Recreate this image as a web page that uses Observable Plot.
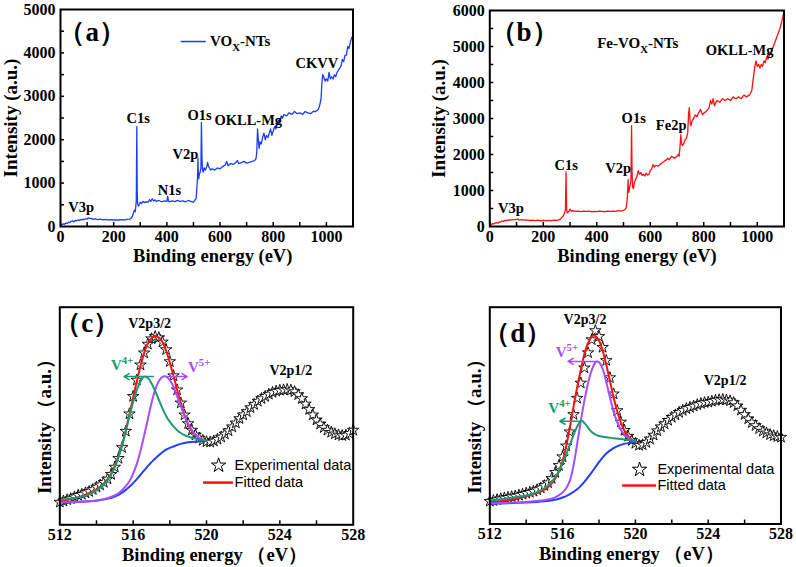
<!DOCTYPE html>
<html><head><meta charset="utf-8">
<script src="https://cdn.jsdelivr.net/npm/d3@7"></script>
<script src="https://cdn.jsdelivr.net/npm/@observablehq/plot@0.6"></script>
<style>
body{margin:0;background:#fff;}
#wrap{position:relative;width:796px;height:567px;overflow:hidden;background:#fff;}
#wrap svg{position:absolute;}
</style></head><body><div id="wrap"></div>
<script>
// ---------- Panel (a): VOx-NTs survey ----------
const aEnergy = [0,5,10,15,20,25,30,35,40,45,50,55,60,65,70,75,80,85,90,95,100,105,110,115,120,130,140,150,160,170,180,190,200,210,220,230,240,250,260,265,270,275,278,281,283,285,287,288.5,290,293,296,300,305,310,315,320,330,335,340,345,350,355,360,370,380,390,400,403,406,410,420,430,440,450,460,470,480,490,500,505,510,513,515,517,518.5,520,522,525,528,530,532,534,537,540,545,550,553,556,560,565,570,580,590,600,610,620,625,630,640,650,660,665,670,680,690,700,710,720,730,735,738,741,744,747,750,755,760,765,770,775,780,785,790,795,800,805,810,815,820,825,830,835,840,850,860,870,880,890,900,910,920,930,940,950,960,970,975,980,983,986,990,995,1000,1005,1010,1015,1020,1025,1030,1035,1040,1045,1050,1055,1060,1065,1070,1075,1080,1085,1090,1095,1100];
const aIntensity = [20,40,60,50,80,70,100,90,120,130,110,140,130,150,140,160,150,170,160,180,170,200,180,190,170,175,160,170,155,165,150,160,150,155,150,160,150,165,170,190,230,320,380,340,450,600,2300,800,520,470,500,560,530,580,550,570,560,620,580,640,590,610,580,600,570,590,580,700,590,570,590,575,600,580,590,570,600,580,560,600,650,900,1100,1580,1150,1100,1200,1250,1350,2400,1600,1300,1250,1350,1300,1380,1480,1400,1350,1300,1330,1300,1350,1330,1380,1420,1500,1400,1450,1430,1480,1520,1450,1470,1500,1460,1480,1500,1520,1560,1700,2250,2000,1800,1950,1900,2050,2150,2000,2100,2050,2150,2250,2100,2200,2300,2250,2350,2450,2400,2550,2500,2580,2550,2620,2580,2650,2600,2620,2580,2650,2620,2600,2650,2650,2700,2800,2950,3300,3500,3450,3350,3400,3350,3550,3400,3450,3400,3500,3450,3550,3600,3650,3700,3850,3800,3950,3950,4150,4100,4250,4350,4400];

// ---------- Panel (b): Fe-VOx-NTs survey ----------
const bEnergy = [0,5,10,15,20,25,30,35,40,45,50,55,60,65,70,75,80,90,100,105,110,120,130,140,150,160,170,180,190,200,210,220,230,240,250,260,265,270,275,280,283,285,287,289,292,296,300,303,306,310,320,330,340,350,360,370,380,390,400,410,420,430,440,450,460,470,480,490,500,505,510,513,515,517,518,520,523,526,528,530,532,534,537,540,545,550,555,560,565,570,575,580,585,590,595,600,605,610,615,620,630,640,650,660,665,670,680,690,700,705,708,711,714,717,720,725,730,735,740,743,746,749,752,757,762,768,775,780,788,795,800,810,820,825,830,835,840,845,850,860,870,880,890,900,910,920,930,940,950,960,970,975,980,985,990,995,1000,1005,1010,1015,1020,1025,1030,1035,1040,1045,1050,1055,1060,1065,1070,1075,1080,1085,1090,1095,1100];
const bIntensity = [20,50,80,70,100,110,90,130,120,150,140,170,160,180,170,190,175,190,200,210,180,190,175,180,170,180,165,175,160,170,160,170,165,175,170,190,210,260,300,380,500,1520,500,380,400,420,480,450,420,440,420,430,410,430,420,430,410,420,415,430,420,410,430,420,430,420,440,430,450,470,520,700,900,1300,1000,950,1100,1200,1300,2800,1500,1100,1050,1200,1300,1400,1550,1450,1500,1420,1450,1400,1480,1430,1450,1550,1600,1720,1650,1700,1680,1750,1800,1850,1900,1850,1950,1900,1950,2000,1950,2200,2550,2300,2250,2300,2400,2450,2600,3100,3300,2900,2800,2950,3000,3100,3050,3150,3250,3100,3150,3200,3300,3500,3400,3550,3350,3450,3500,3450,3550,3500,3550,3500,3600,3550,3600,3550,3650,3600,3650,3700,3800,4100,4400,4600,4450,4500,4400,4500,4450,4600,4550,4700,4650,4750,4800,4900,5000,5100,5200,5300,5400,5500,5650,5800,5980];

// ---------- Panel (c): V2p of VOx-NTs (arbitrary units) ----------
const cExpEnergy = [512.0,512.2,512.4,512.6,512.8,513.0,513.2,513.4,513.6,513.8,514.0,514.2,514.4,514.6,514.8,515.0,515.2,515.4,515.6,515.8,516.0,516.2,516.4,516.6,516.8,517.0,517.2,517.4,517.6,517.8,518.0,518.2,518.4,518.6,518.8,519.0,519.2,519.4,519.6,519.8,520.0,520.2,520.4,520.6,520.8,521.0,521.2,521.4,521.6,521.8,522.0,522.2,522.4,522.6,522.8,523.0,523.2,523.4,523.6,523.8,524.0,524.2,524.4,524.6,524.8,525.0,525.2,525.4,525.6,525.8,526.0,526.2,526.4,526.6,526.8,527.0,527.2,527.4,527.6,527.8,528.0];
const cExp = [10.4,10.9,11.5,12.0,12.8,13.5,14.0,14.7,15.3,16.2,17.3,18.3,19.5,21.0,23.2,26.5,30.5,35.5,43.0,51.0,59.0,66.5,73.5,79.0,83.0,85.5,86.5,86.0,84.0,80.5,75.0,68.5,62.0,56.0,50.5,46.5,43.5,41.3,39.8,38.8,38.2,38.0,38.5,39.3,40.3,41.7,43.2,45.0,46.8,48.8,50.5,52.0,53.8,55.3,56.8,58.0,59.0,60.0,60.8,61.4,61.8,62.0,62.2,61.9,61.2,59.8,58.0,55.5,53.0,50.5,48.2,46.3,44.7,43.5,42.5,41.8,41.3,41.0,41.2,42.0,43.5];
const cFitEnergy = [512.0,512.4,512.8,513.2,513.6,514.0,514.4,514.8,515.0,515.2,515.4,515.6,515.8,516.0,516.2,516.4,516.6,516.8,517.0,517.2,517.4,517.6,517.8,518.0,518.2,518.4,518.6,518.8,519.0,519.2,519.4,519.6,519.8,520.0];
const cFit = [11.0,11.5,12.3,13.2,14.5,16.3,19.0,23.5,27.0,31.5,37.0,43.5,51.0,58.5,66.0,73.0,79.0,83.3,85.8,86.6,86.0,84.0,80.0,74.5,68.5,62.0,56.0,50.5,46.0,43.0,41.0,39.8,39.0,38.7];
const cV4Energy = [512.0,512.4,512.8,513.2,513.6,514.0,514.4,514.8,515.0,515.2,515.4,515.6,515.8,516.0,516.2,516.4,516.6,516.8,517.0,517.2,517.4,517.6,517.8,518.0,518.2,518.4,518.6,518.8,519.0,519.2,519.4,519.6,519.8,520.0];
const cV4 = [11.5,11.8,12.3,13.0,14.0,15.8,18.5,23.0,26.5,31.0,36.5,43.0,50.0,56.5,62.0,66.0,68.1,67.5,65.0,61.5,57.5,53.5,50.0,47.3,45.2,43.5,42.2,41.2,40.5,40.0,39.6,39.2,39.0,38.7];
const cV5Energy = [512.0,512.8,513.6,514.0,514.4,514.8,515.2,515.6,515.8,516.0,516.2,516.4,516.6,516.8,517.0,517.2,517.4,517.6,517.8,518.0,518.2,518.4,518.6,518.8,519.0,519.2,519.4,519.6,519.8,520.0];
const cV5 = [10.4,10.5,10.8,11.2,11.8,12.8,14.5,17.8,20.0,23.5,28.0,34.0,41.0,48.5,56.0,62.0,66.0,68.0,68.1,66.5,63.5,59.0,54.5,50.0,46.5,43.5,41.5,40.0,39.2,38.7];
const cBgEnergy = [512.0,513.0,514.0,514.5,515.0,515.4,515.8,516.2,516.6,517.0,517.4,517.8,518.2,518.6,519.0,519.5,520.0];
const cBg = [10.4,10.5,11.0,11.8,13.0,14.8,17.5,21.0,25.0,28.8,32.0,34.5,36.0,37.2,37.9,38.3,38.5];

// ---------- Panel (d): V2p of Fe-VOx-NTs ----------
const dExpEnergy = cExpEnergy;
const dExp = [10.5,10.8,11.2,11.6,12.0,12.3,12.6,12.9,13.3,13.7,14.2,14.6,15.1,15.8,16.6,17.7,19.0,21.0,23.8,27.0,31.0,36.0,42.5,50.5,58.0,65.0,72.0,79.0,85.0,89.2,86.5,81.5,75.4,67.5,60.0,52.3,47.0,43.2,40.5,38.5,37.2,36.3,36.5,37.6,39.2,41.0,43.0,44.8,46.2,47.8,49.2,50.3,51.5,52.4,53.2,53.8,54.4,55.0,55.6,56.0,56.2,56.6,57.0,57.3,57.4,57.2,56.8,56.0,54.5,52.5,50.5,48.5,46.8,45.4,44.0,42.8,42.0,41.2,40.7,40.3,40.0];
const dFitEnergy = [512.0,512.4,512.8,513.2,513.6,514.0,514.4,514.8,515.2,515.6,516.0,516.2,516.4,516.6,516.8,517.0,517.2,517.4,517.6,517.7,517.8,518.0,518.2,518.4,518.6,518.8,519.0,519.2,519.4,519.6,519.8,520.0];
const dFit = [10.0,10.3,10.8,11.3,12.0,12.8,13.8,15.0,17.0,21.0,29.0,36.0,44.5,54.0,63.0,71.0,78.5,83.5,86.3,86.9,86.7,84.6,80.0,73.5,66.0,58.5,52.0,46.9,43.0,40.5,38.8,37.7];
const dV5Energy = [512.0,513.0,514.0,514.8,515.2,515.6,516.0,516.2,516.4,516.6,516.8,517.0,517.2,517.4,517.6,517.8,517.9,518.0,518.2,518.4,518.6,518.8,519.0,519.2,519.4,519.6,519.8,520.0];
const dV5 = [9.5,9.8,10.2,10.8,11.3,12.3,14.5,16.5,20.0,27.0,37.0,47.5,57.0,65.0,71.0,74.5,75.0,74.6,71.5,65.5,58.5,52.0,47.0,43.5,41.2,39.7,38.7,38.2];
const dV4Energy = [512.0,512.5,513.0,513.5,514.0,514.5,515.0,515.4,515.8,516.0,516.2,516.4,516.6,516.8,517.0,517.1,517.3,517.5,517.7,518.0,518.4,518.8,519.2,519.6,520.0];
const dV4 = [10.8,11.3,11.9,12.5,13.1,14.3,16.5,19.5,24.5,28.0,32.0,36.5,41.0,45.0,47.3,47.4,45.5,43.3,41.8,40.6,40.0,39.6,39.2,38.7,38.2];
const dBgEnergy = [512.0,513.0,514.0,515.0,515.6,516.0,516.4,516.8,517.2,517.6,518.0,518.4,518.8,519.2,519.6,520.0];
const dBg = [9.5,9.6,9.9,10.5,11.2,12.2,13.8,16.0,19.5,23.8,28.5,32.5,35.0,36.5,37.3,37.7];

// tick values
const surveyTicks = [0,200,400,600,800,1000];
const surveyMinor = [0,100,200,300,400,500,600,700,800,900,1000];
const aYTicks = [0,1000,2000,3000,4000,5000];
const aYMinor = [500,1000,1500,2000,2500,3000,3500,4000,4500];
const bYTicks = [0,1000,2000,3000,4000,5000,6000];
const bYMinor = [500,1000,1500,2000,2500,3000,3500,4000,4500,5000,5500];
const v2pTicks = [512,516,520,524,528];
const v2pMinor = [514,516,518,520,522,524,526];

// colors
const BLUE = "#1e3cff", RED = "#ff1010", GREEN = "#1b9a6e", PURPLE = "#a64dff";
const SERIF = "'Liberation Serif','Times New Roman',serif";
const SANS = "'Liberation Sans',Arial,sans-serif";

const zip = (xs, ys) => xs.map((x, i) => ({x, y: ys[i]}));

function axes(xTicks, xMinor, yTicks, yMinor) {
  const m = [
    Plot.axisX(xTicks, {anchor: "bottom", label: null, tickSize: 0, tickPadding: 4, tickFormat: "d", fontSize: 16, fontWeight: "bold"}),
    Plot.axisX(xMinor, {anchor: "bottom", label: null, tickSize: -4, tickFormat: () => "", strokeWidth: 1.5})
  ];
  if (yTicks) {
    m.push(Plot.axisY(yTicks, {anchor: "left", label: null, tickSize: 0, tickPadding: 5, tickFormat: "d", fontSize: 16, fontWeight: "bold"}));
    m.push(Plot.axisY(yMinor, {anchor: "left", label: null, tickSize: -4, tickFormat: () => "", strokeWidth: 1.5}));
  }
  return m;
}

function richify(svg) {
  svg.querySelectorAll("text").forEach(t => {
    const s = t.textContent;
    if (!/[_^]/.test(s)) return;
    const parts = s.split(/([_^][^-\s]+)/).filter(p => p !== "");
    t.textContent = "";
    let shift = 0;
    parts.forEach(p => {
      const ts = document.createElementNS("http://www.w3.org/2000/svg", "tspan");
      let dy = 0;
      if (p[0] === "^") { dy = -6 - shift; shift = -6; ts.setAttribute("font-size", "0.72em"); ts.textContent = p.slice(1); }
      else if (p[0] === "_") { dy = 5 - shift; shift = 5; ts.setAttribute("font-size", "0.72em"); ts.textContent = p.slice(1); }
      else { dy = -shift; shift = 0; ts.textContent = p; }
      if (dy) ts.setAttribute("dy", dy);
      t.appendChild(ts);
    });
  });
}

function place(svg, left, top) {
  svg.style.left = left + "px";
  svg.style.top = top + "px";
  richify(svg);
  document.getElementById("wrap").appendChild(svg);
}

const baseStyle = {fontFamily: SERIF, fontWeight: "bold", fontSize: "16px", color: "black", background: "transparent", overflow: "visible"};
const lbl = (rows, opts = {}) => Plot.text(rows, {x: "x", y: "y", text: "t", fontFamily: SERIF, fontWeight: "bold", fontSize: 14, textAnchor: "middle", ...opts});
const yTitle = (t, dx, dy = 0) => Plot.text([t], {frameAnchor: "left", textAnchor: "middle", lineAnchor: "middle", dx, dy, rotate: -90, fontSize: 19, fontWeight: "bold", fontFamily: SERIF});
const xTitle = (t, dx, dy) => Plot.text([t], {frameAnchor: "bottom", textAnchor: "middle", lineAnchor: "middle", dx, dy, fontSize: 18.5, fontWeight: "bold", fontFamily: SERIF});

// ---------- (a) ----------
const aLabels = [
  {x: 964, y: 3756, t: "CKVV"}, {x: 292, y: 2488, t: "C1s"}, {x: 523, y: 2557, t: "O1s"},
  {x: 706, y: 2442, t: "OKLL-Mg"}, {x: 470, y: 1659, t: "V2p"}, {x: 410, y: 829, t: "N1s"}, {x: 78, y: 438, t: "V3p"}
];
const pa = Plot.plot({
  width: 398, height: 283, marginLeft: 60, marginRight: 45.5, marginTop: 9, marginBottom: 57,
  style: baseStyle,
  x: {domain: [0, 1100], label: null}, y: {domain: [0, 5000], label: null},
  marks: [
    Plot.line(zip(aEnergy, aIntensity), {x: "x", y: "y", stroke: BLUE, strokeWidth: 1.3}),
    lbl(aLabels, {fontSize: 14.5}),
    lbl([{x: 119, y: 4470, t: "（a）"}], {fontSize: 27}),
    Plot.ruleY([4262], {x1: 454, x2: 548, stroke: BLUE, strokeWidth: 1.5}),
    lbl([{x: 562, y: 4262, t: "VO_X-NTs"}], {textAnchor: "start", fontSize: 15}),
    ...axes(surveyTicks, surveyMinor, aYTicks, aYMinor),
    yTitle("Intensity (a.u.)", -50),
    xTitle("Binding energy (eV)", 6, 30),
    Plot.frame({stroke: "black", strokeWidth: 2})
  ]
});
place(pa, 0, 0);

// ---------- (b) ----------
const bLabels = [
  {x: 934, y: 4889, t: "OKLL-Mg"}, {x: 538, y: 3000, t: "O1s"}, {x: 678, y: 2806, t: "Fe2p"},
  {x: 286, y: 1694, t: "C1s"}, {x: 480, y: 1611, t: "V2p"}, {x: 79, y: 500, t: "V3p"}
];
const pb = Plot.plot({
  width: 398, height: 283, marginLeft: 91.3, marginRight: 12.5, marginTop: 10, marginBottom: 57,
  style: baseStyle,
  x: {domain: [0, 1100], label: null}, y: {domain: [0, 6000], label: null},
  marks: [
    Plot.line(zip(bEnergy, bIntensity), {x: "x", y: "y", stroke: RED, strokeWidth: 1.3}),
    lbl(bLabels, {fontSize: 14.5}),
    lbl([{x: 128, y: 5389, t: "（b）"}], {fontSize: 27}),
    lbl([{x: 553, y: 5083, t: "Fe-VO_X-NTs"}], {fontSize: 15}),
    ...axes(surveyTicks, surveyMinor, bYTicks, bYMinor),
    yTitle("Intensity (a.u.)", -51),
    xTitle("Binding energy (eV)", 0, 30),
    Plot.frame({stroke: "black", strokeWidth: 2})
  ]
});
place(pb, 398, 0);

// ---------- (c) / (d) builder ----------
function v2pPanel(o) {
  return Plot.plot({
    width: 398, height: 284, marginLeft: o.ml, marginRight: o.mr, marginTop: 23.7, marginBottom: o.mb,
    style: baseStyle,
    x: {domain: [512, 528], label: null}, y: {domain: [0, 100], axis: null, label: null},
    marks: [
      Plot.dot(o.exp, {x: "x", y: "y", symbol: "star", r: 3.6, fill: "white", stroke: "black", strokeWidth: 0.9}),
      Plot.line(o.fit, {x: "x", y: "y", stroke: RED, strokeWidth: 2, curve: "catmull-rom"}),
      Plot.line(o.bg, {x: "x", y: "y", stroke: "#2040ff", strokeWidth: 2, curve: "catmull-rom"}),
      Plot.line(o.v5, {x: "x", y: "y", stroke: PURPLE, strokeWidth: 2, curve: "catmull-rom"}),
      Plot.line(o.v4, {x: "x", y: "y", stroke: GREEN, strokeWidth: 2, curve: "catmull-rom"}),
      Plot.arrow(o.arrows, {x1: "x1", y1: "y", x2: "x2", y2: "y", stroke: "c", headLength: 6, strokeWidth: 1.5}),
      lbl(o.labels),
      lbl(o.v4lab, {fill: GREEN, fontSize: 15}),
      lbl(o.v5lab, {fill: PURPLE, fontSize: 15}),
      lbl(o.tag, {fontSize: 27}),
      Plot.dot(o.legStar, {x: "x", y: "y", symbol: "star", r: 4.5, fill: "white", stroke: "black", strokeWidth: 1}),
      Plot.ruleY(o.legLine, {y: "y", x1: "x1", x2: "x2", stroke: RED, strokeWidth: 2.5}),
      Plot.text(o.legText, {x: "x", y: "y", text: "t", textAnchor: "start", fontFamily: SANS, fontWeight: "normal", fontSize: 14.5}),
      ...axes(v2pTicks, v2pMinor),
      yTitle("Intensity （a.u.）", -15, 6),
      xTitle("Binding energy （eV）", o.xdx, 30),
      Plot.frame({stroke: "black", strokeWidth: 2})
    ]
  });
}

const pc = v2pPanel({
  ml: 59.3, mr: 45.3, mb: 42.7, xdx: 8,
  exp: zip(cExpEnergy, cExp), fit: zip(cFitEnergy, cFit), bg: zip(cBgEnergy, cBg),
  v5: zip(cV5Energy, cV5), v4: zip(cV4Energy, cV4),
  arrows: [{x1: 517.1, x2: 515.5, y: 68.1, c: GREEN}, {x1: 517.8, x2: 518.95, y: 68.1, c: PURPLE}],
  labels: [{x: 516.9, y: 92.5, t: "V2p3/2"}, {x: 524.6, y: 71, t: "V2p1/2"}],
  v4lab: [{x: 515.4, y: 73.5, t: "V^4+"}], v5lab: [{x: 519.6, y: 72.5, t: "V^5+"}],
  tag: [{x: 513.5, y: 92.5, t: "（c）"}],
  legStar: [{x: 520.66, y: 27.3}], legLine: [{x1: 519.84, x2: 521.47, y: 19.4}],
  legText: [{x: 521.53, y: 27.3, t: "Experimental data"}, {x: 521.53, y: 19.4, t: "Fitted data"}]
});
place(pc, 0, 283);

const pd = v2pPanel({
  ml: 91.3, mr: 15.5, mb: 43.5, xdx: -4,
  exp: zip(dExpEnergy, dExp), fit: zip(dFitEnergy, dFit), bg: zip(dBgEnergy, dBg),
  v5: zip(dV5Energy, dV5), v4: zip(dV4Energy, dV4),
  arrows: [{x1: 517.9, x2: 516.3, y: 75, c: PURPLE}, {x1: 517.05, x2: 515.85, y: 47.4, c: GREEN}],
  labels: [{x: 517.23, y: 94.3, t: "V2p3/2"}, {x: 524.93, y: 66.2, t: "V2p1/2"}],
  v4lab: [{x: 515.83, y: 53.3, t: "V^4+"}], v5lab: [{x: 516.24, y: 79.1, t: "V^5+"}],
  tag: [{x: 513.54, y: 87.9, t: "（d）"}],
  legStar: [{x: 520.23, y: 25.1}], legLine: [{x1: 519.3, x2: 521.16, y: 17.8}],
  legText: [{x: 521.21, y: 25.1, t: "Experimental data"}, {x: 521.21, y: 17.8, t: "Fitted data"}]
});
place(pd, 398, 283);
</script>
</body></html>
